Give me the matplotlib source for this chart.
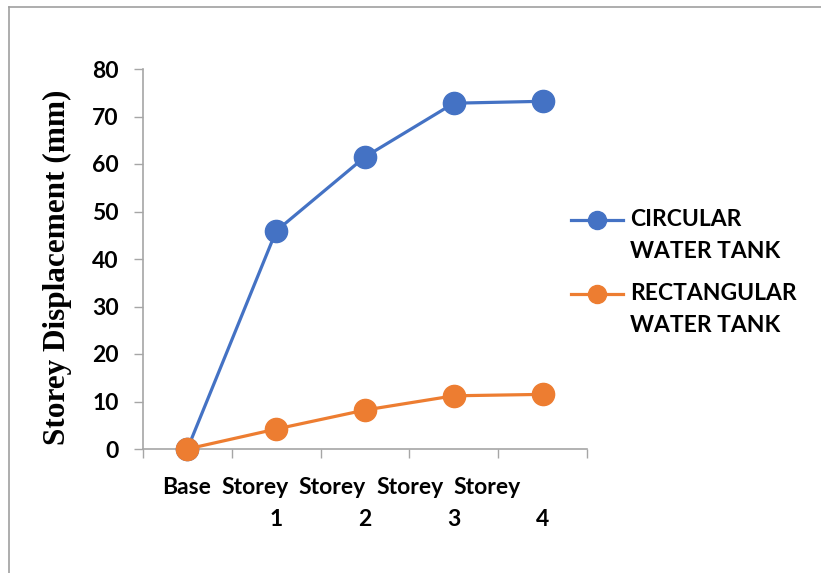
import matplotlib
matplotlib.use("Agg")
import matplotlib.pyplot as plt
from matplotlib.lines import Line2D

categories = ["Base", "Storey 1", "Storey 2", "Storey 3", "Storey 4"]
circular = [0, 45.9, 61.5, 72.8, 73.2]
rectangular = [0, 4.2, 8.2, 11.2, 11.5]
series_names = ["CIRCULAR\nWATER TANK", "RECTANGULAR\nWATER TANK"]
y_ticks = [0, 10, 20, 30, 40, 50, 60, 70, 80]

BLUE = "#4472C4"
ORANGE = "#ED7D31"
GRAY = "#A6A6A6"
FONT = "Lato"

W, H = 821, 573
fig = plt.figure(figsize=(W / 100, H / 100), dpi=100)
ax = fig.add_axes([143 / W, 1 - 449 / H, (587 - 143) / W, (449 - 69) / H])

x = list(range(len(categories)))
ax.plot(x, circular, color=BLUE, lw=2.3, marker="o", ms=16, zorder=3, clip_on=False)
ax.plot(x, rectangular, color=ORANGE, lw=2.3, marker="o", ms=16, zorder=3, clip_on=False)

TS = 16.5
ax.set_xlim(-0.5, len(categories) - 0.5)
ax.set_ylim(0, 80)
ax.set_yticks(y_ticks)
ax.set_yticklabels([str(v) for v in y_ticks], fontfamily=FONT, fontweight="bold", fontsize=TS)
ax.tick_params(axis="y", length=6.5, width=1, color=GRAY, pad=11)
ax.set_xticks([i - 0.5 for i in range(len(categories) + 1)])
ax.set_xticklabels([])
ax.tick_params(axis="x", length=6.5, width=1, color=GRAY)

for s in ["top", "right"]:
    ax.spines[s].set_visible(False)
for s in ["left", "bottom"]:
    ax.spines[s].set_color(GRAY)
    ax.spines[s].set_linewidth(1.2)

# category labels, wrapped the way the original shows them
first_x = [187, 255, 332, 410, 487]
for i, cat in enumerate(categories):
    parts = cat.split(" ")
    fig.text(first_x[i] / W, 1 - 488 / H, parts[0], ha="center", va="center",
             fontfamily=FONT, fontweight="bold", fontsize=TS)
    if len(parts) > 1:
        xd = ax.transData.transform((i, 0))[0] / W
        fig.text(xd, 1 - 519 / H, parts[1], ha="center", va="center",
                 fontfamily=FONT, fontweight="bold", fontsize=TS)

fig.text(57 / W, 1 - 267 / H, "Storey Displacement (mm)", rotation=90,
         ha="center", va="center", fontfamily="Liberation Serif",
         fontweight="bold", fontsize=22.5)

# legend
for j, (name, col) in enumerate(zip(series_names, [BLUE, ORANGE])):
    yl = 1 - (220 + j * 74) / H
    fig.add_artist(Line2D([571 / W, 623 / W], [yl, yl], color=col, lw=2.3,
                          transform=fig.transFigure))
    fig.add_artist(Line2D([597 / W], [yl], color=col, marker="o", ms=13,
                          transform=fig.transFigure))
    for k, line in enumerate(name.split("\n")):
        fig.text(630 / W, yl - k * 32 / H, line, ha="left", va="center",
                 fontfamily=FONT, fontweight="bold", fontsize=TS)

# chart area border (left and top visible)
fig.add_artist(Line2D([9 / W, 9 / W], [0, 1 - 7 / H], color="#A0A0A0", lw=1.2,
                      transform=fig.transFigure))
fig.add_artist(Line2D([9 / W, 1], [1 - 7 / H, 1 - 7 / H], color="#A0A0A0", lw=1.2,
                      transform=fig.transFigure))

fig.savefig("out.png", dpi=100)
